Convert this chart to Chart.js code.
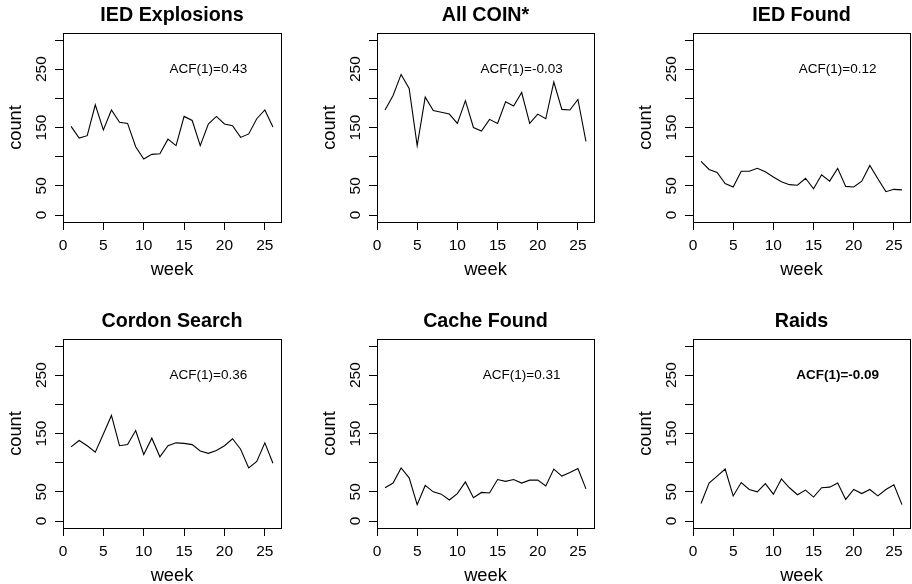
<!DOCTYPE html>
<html><head><meta charset="utf-8">
<script src="https://cdn.jsdelivr.net/npm/chart.js@4/dist/chart.umd.min.js"></script>
<style>
html,body{margin:0;padding:0;background:#fff;overflow:hidden;width:912px;height:584px;position:relative}
canvas{position:absolute}
</style></head><body>
<script>
// ---------- data ----------
const weeks = [1,2,3,4,5,6,7,8,9,10,11,12,13,14,15,16,17,18,19,20,21,22,23,24,25,26];
const panelTitles = ["IED Explosions","All COIN*","IED Found","Cordon Search","Cache Found","Raids"];
const iedExplosions = [152,132,136,189,146,180,159,157,117,96,104,105,130,119,169,162,119,156,169,156,153,133,139,165,180,151];
const allCoin       = [180,205,241,217,119,202,179,176,173,157,196,150,144,164,157,194,187,210,157,173,165,228,181,180,198,126];
const iedFound      = [92,78,73,54,48,75,75,80,74,65,57,52,51,63,45,69,58,80,49,48,58,85,62,40,44,43];
const cordonSearch  = [127,138,129,118,149,181,129,131,155,114,142,110,129,134,133,131,120,116,121,129,141,123,91,102,134,99];
const cacheFound    = [57,65,91,74,28,61,50,46,36,47,67,40,49,48,71,68,71,65,70,70,60,89,77,83,90,55];
const raids         = [30,65,77,89,43,66,54,50,64,46,72,57,45,53,41,57,58,65,37,54,47,54,43,54,62,28];
const acfLabels = ["ACF(1)=0.43","ACF(1)=-0.03","ACF(1)=0.12","ACF(1)=0.36","ACF(1)=0.31","ACF(1)=-0.09"];
const acfX = 18;
const acfY = 250;
const xTicks = [0,5,10,15,20,25];
const yTicks = [0,50,100,150,200,250,300];
const yTickLabels = ["0","50","","150","","250",""];
const yLimits = [0,300];
const xAxisTitle = "week";
const yAxisTitle = "count";

const allSeries = [iedExplosions, allCoin, iedFound, cordonSearch, cacheFound, raids];

// ---------- layout / style ----------
const FONT = '"Liberation Sans", Arial, Helvetica, sans-serif';
const canvasPos = [
  {left:0,   top:0,   width:283},
  {left:314, top:0,   width:282},
  {left:630, top:0,   width:282},
  {left:0,   top:306, width:283},
  {left:314, top:306, width:282},
  {left:630, top:306, width:282}
];
const CANVAS_H = 282;
const boldAcfPanels = [5];
const TICK_SIZE = 15.5;

// R-style 4% axis extension
const xExt = (weeks[weeks.length-1]-weeks[0])*0.04;
const yExt = (yLimits[1]-yLimits[0])*0.04;

const boxPlugin = {
  id:'rbox',
  afterDraw(chart){
    const a = chart.chartArea, ctx = chart.ctx;
    ctx.save();
    ctx.strokeStyle = '#000';
    ctx.lineWidth = 1;
    const l = Math.round(a.left)+0.5, r = Math.round(a.right)+0.5;
    const t = Math.round(a.top)+0.5, b = Math.round(a.bottom)+0.5;
    ctx.strokeRect(l, t, r-l, b-t);
    ctx.restore();
  }
};
const acfPlugin = {
  id:'acf',
  afterDatasetsDraw(chart, args, opts){
    const i = opts.index;
    const {ctx} = chart; const xs = chart.scales.x, ys = chart.scales.y;
    ctx.save();
    ctx.font = (boldAcfPanels.includes(i) ? 'bold ' : '') + '13.5px ' + FONT;
    ctx.fillStyle = '#000';
    ctx.textAlign = 'center';
    ctx.textBaseline = 'middle';
    ctx.fillText(acfLabels[i], xs.getPixelForValue(acfX), ys.getPixelForValue(acfY));
    ctx.restore();
  }
};

allSeries.forEach((series, idx) => {
  const pos = canvasPos[idx];
  const cv = document.createElement('canvas');
  cv.width = pos.width; cv.height = CANVAS_H;
  cv.style.left = pos.left + 'px'; cv.style.top = pos.top + 'px';
  cv.style.width = pos.width + 'px'; cv.style.height = CANVAS_H + 'px';
  document.body.appendChild(cv);
  new Chart(cv, {
    type:'line',
    data:{datasets:[{
      data: weeks.map((w,i)=>({x:w, y:series[i]})),
      borderColor:'#000', borderWidth:1.1, pointRadius:0, tension:0, fill:false
    }]},
    options:{
      responsive:false, animation:false, devicePixelRatio:1,
      layout:{padding:{left:0,right:2,top:0,bottom:0}},
      plugins:{
        legend:{display:false}, tooltip:{enabled:false},
        title:{display:true, text:panelTitles[idx], fullSize:false, color:'#000',
          font:{family:FONT, size:19.7, weight:'bold', lineHeight:1.2},
          padding:{top:3.5, bottom:5.86}},
        acf:{index:idx}
      },
      scales:{
        x:{
          type:'linear', position:'bottom',
          min: weeks[0]-xExt, max: weeks[weeks.length-1]+xExt,
          afterBuildTicks: s => { s.ticks = xTicks.map(v=>({value:v})); },
          afterFit: s => { s.height = 60; },
          ticks:{color:'#000', font:{family:FONT, size:TICK_SIZE}, padding:6.1, autoSkip:false,
                 maxRotation:0, minRotation:0, callback:(v)=>String(v)},
          grid:{drawOnChartArea:false, drawTicks:true, tickLength:8, color:'#000', lineWidth:1},
          border:{display:true, color:'#000', width:1},
          title:{display:true, text:xAxisTitle, color:'#000',
                 font:{family:FONT, size:18.3, lineHeight:1}, padding:{top:0, bottom:3}}
        },
        y:{
          type:'linear', position:'left',
          min: yLimits[0]-yExt, max: yLimits[1]+yExt,
          afterBuildTicks: s => { s.ticks = yTicks.map(v=>({value:v})); },
          afterFit: s => { s.width = 63; },
          ticks:{color:'#000', font:{family:FONT, size:TICK_SIZE}, padding:0.5, autoSkip:false,
                 minRotation:90, maxRotation:90, crossAlign:'center',
                 callback:(v,i)=>yTickLabels[i]},
          grid:{drawOnChartArea:false, drawTicks:true, tickLength:8, color:'#000', lineWidth:1},
          border:{display:true, color:'#000', width:1},
          title:{display:true, text:yAxisTitle, color:'#000',
                 font:{family:FONT, size:18.3, lineHeight:1}, padding:{top:7.25, bottom:0}}
        }
      }
    },
    plugins:[boxPlugin, acfPlugin]
  });
});
</script>
</body></html>
